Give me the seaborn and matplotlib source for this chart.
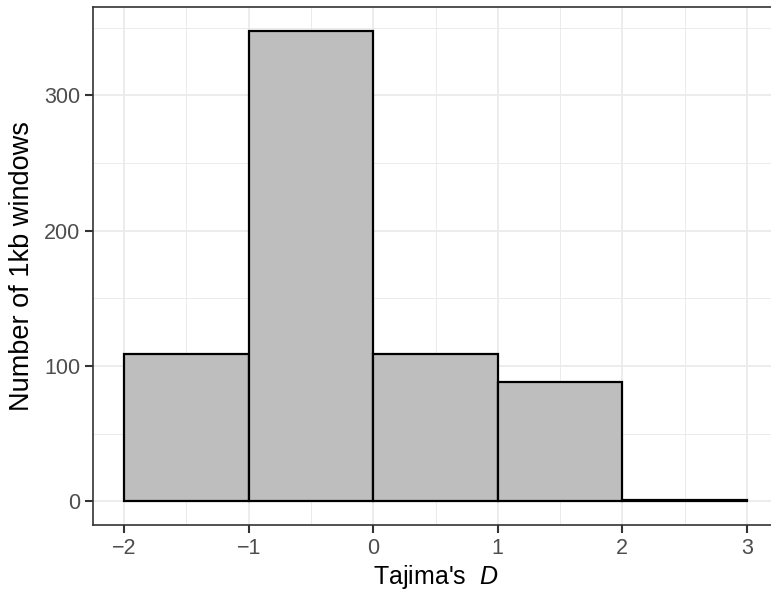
import matplotlib
matplotlib.use("Agg")
import matplotlib.pyplot as plt
import seaborn as sns
import numpy as np
from matplotlib.ticker import MultipleLocator

bin_edges = [-2, -1, 0, 1, 2, 3]
bin_centers = [-1.5, -0.5, 0.5, 1.5, 2.5]
counts = [109, 348, 109, 88, 1]
x_ticks = [-2, -1, 0, 1, 2, 3]
x_tick_labels = ["\u22122", "\u22121", "0", "1", "2", "3"]
y_ticks = [0, 100, 200, 300]

sns.set_theme(style="white")
plt.rcParams['font.family'] = ['Liberation Sans', 'DejaVu Sans']
plt.rcParams['mathtext.fontset'] = 'custom'
plt.rcParams['mathtext.it'] = 'Liberation Sans:italic'
plt.rcParams['mathtext.rm'] = 'Liberation Sans'

fig = plt.figure(figsize=(7.71, 5.94), dpi=100)
W, H = 771, 594
left, right, top, bottom = 93, 778, 7, 525
ax = fig.add_axes([left / W, (H - bottom) / H, (right - left) / W, (bottom - top) / H])

sns.histplot(x=bin_centers, weights=counts, bins=bin_edges, ax=ax,
             color="#BEBEBE", edgecolor="black", linewidth=1.6, alpha=1, zorder=3)

ymax = max(counts)
ax.set_xlim(-2.25, 3.25)
ax.set_ylim(-0.05 * ymax, 1.05 * ymax)
ax.set_xticks(x_ticks)
ax.set_xticklabels(x_tick_labels)
ax.set_yticks(y_ticks)
ax.xaxis.set_minor_locator(MultipleLocator(0.5))
ax.yaxis.set_minor_locator(MultipleLocator(50))

ax.grid(True, which="major", color="#EBEBEB", linewidth=1.3, zorder=0)
ax.grid(True, which="minor", color="#EBEBEB", linewidth=0.7, zorder=0)
ax.set_axisbelow(True)

for s in ax.spines.values():
    s.set_color("#333333")
    s.set_linewidth(1.2)

ax.tick_params(axis="both", which="major", length=6, width=1.5, color="#333333",
               labelsize=15.5, labelcolor="#4D4D4D", pad=3, bottom=True, left=True)
ax.tick_params(axis="both", which="minor", length=0)

ax.set_xlabel("Tajima's  $\\mathit{D}$", fontsize=18, color="black", labelpad=3)
ax.set_ylabel("Number of 1kb windows", fontsize=19.5, color="black", labelpad=7)

fig.savefig("out.png", dpi=100)
